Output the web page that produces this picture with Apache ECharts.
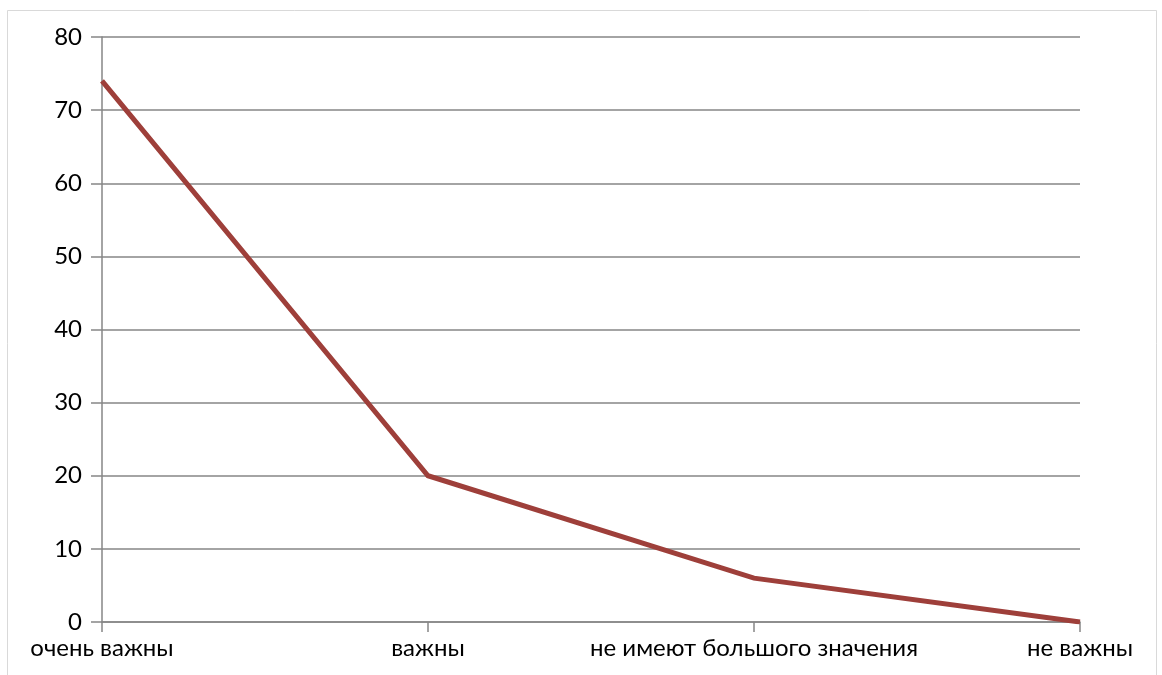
<!DOCTYPE html>
<html><head><meta charset="utf-8">
<script src="https://cdn.jsdelivr.net/npm/echarts@6/dist/echarts.min.js"></script>
<style>html,body{margin:0;padding:0;background:#fff}#c{width:1162px;height:675px}</style>
</head><body><div id="c"></div>
<script>
const categories = ['очень важны', 'важны', 'не имеют большого значения', 'не важны'];
const values = [74, 20, 6, 0];
const yTicks = [0, 10, 20, 30, 40, 50, 60, 70, 80];

const chart = echarts.init(document.getElementById('c'));
chart.setOption({
  animation: false,
  backgroundColor: '#fff',
  graphic: [{type: 'rect', shape: {x: 7.5, y: 10.5, width: 1149, height: 680}, style: {fill: 'none', stroke: '#d9d9d9', lineWidth: 1}}],
  grid: {left: 102, right: 82, top: 37, bottom: 53},
  xAxis: {
    type: 'category', data: categories, boundaryGap: false,
    axisLine: {lineStyle: {color: '#868686', width: 1.5}},
    axisTick: {show: true, length: 10, alignWithLabel: true, lineStyle: {color: '#868686', width: 1.5}},
    axisLabel: {color: '#000', fontFamily: 'Lato', fontSize: 24, margin: 14, interval: 0},
    splitLine: {show: false}
  },
  yAxis: {
    type: 'value', min: yTicks[0], max: yTicks[yTicks.length-1], interval: 10,
    axisLine: {show: true, lineStyle: {color: '#868686', width: 1.5}},
    axisTick: {show: true, length: 11, lineStyle: {color: '#868686', width: 1.5}},
    axisLabel: {color: '#000', fontFamily: 'Lato', fontSize: 24, margin: 20},
    splitLine: {show: true, lineStyle: {color: '#868686', width: 1.5}}
  },
  series: [{
    type: 'line', data: values, symbol: 'none',
    lineStyle: {color: '#9E3F3A', width: 5, cap: 'butt', join: 'miter'}
  }]
});
</script></body></html>
